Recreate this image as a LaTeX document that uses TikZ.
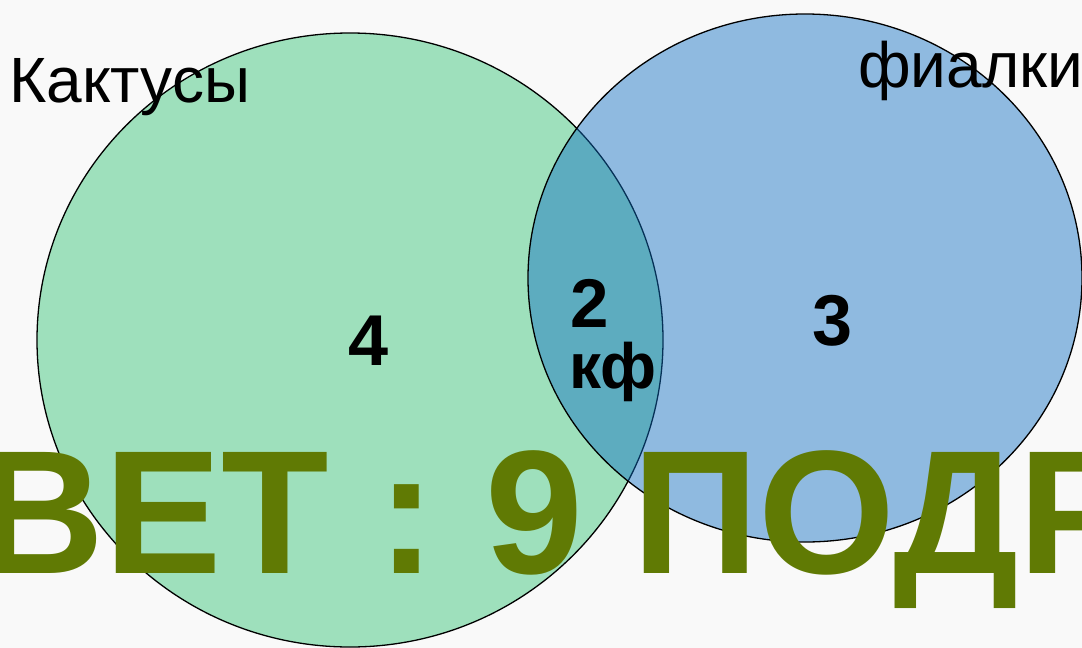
\documentclass[tikz,border=0pt]{standalone}
\usepackage{fontspec}
\setmainfont{Liberation Sans}
\definecolor{bgc}{RGB}{249,249,249}
\definecolor{greenfill}{RGB}{158,224,188}
\definecolor{blueover}{RGB}{15,110,195}
\definecolor{olive}{RGB}{96,122,4}
\tikzset{
  lbl/.style={anchor=base west,inner sep=0pt,text=black},
  num/.style={lbl,font=\fontsize{72}{72}\selectfont\bfseries},
  big/.style={anchor=base west,inner sep=0pt,text=olive,font=\fontsize{176}{176}\selectfont\bfseries},
}
\begin{document}
\begin{tikzpicture}[x=1pt,y=-1pt]
\useasboundingbox (0,0) rectangle (1082,648);
\clip (0,0) rectangle (1082,648);
\fill[bgc] (0,0) rectangle (1082,648);
% green circle
\draw[fill=greenfill,line width=1.3pt] (350,340) ellipse [x radius=313,y radius=307];
% blue circle
\fill[blueover,fill opacity=0.45] (805,278) ellipse [x radius=277,y radius=264];
\draw[line width=1.3pt] (805,278) ellipse [x radius=277,y radius=264];
% labels
\node[lbl,font=\fontsize{64}{64}\selectfont] (kakt) at (9,102) {Кактусы};
\node[lbl,font=\fontsize{64}{64}\selectfont] (fial) at (858,87) {фиалки};
\node[num] (four) at (348,365) {4};
\node[num] (three) at (812,345) {3};
\node[lbl,font=\fontsize{69}{69}\selectfont\bfseries] (two) at (570,327) {2};
\node[lbl,font=\fontsize{64}{64}\selectfont\bfseries] (kf) at (569,388) {кф};
\node[big] (answer) at (-23,573) {ВЕТ : 9 ПОДР};
\end{tikzpicture}
\end{document}
